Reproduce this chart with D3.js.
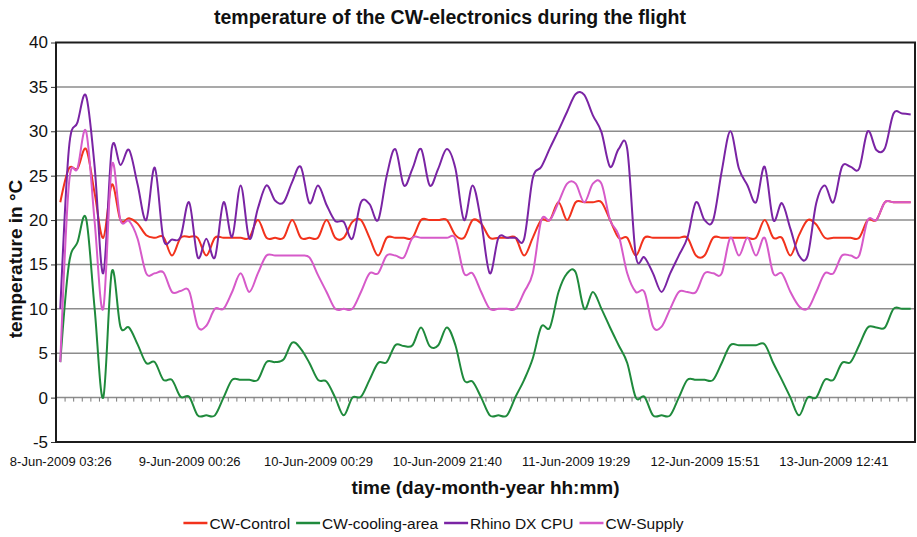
<!DOCTYPE html>
<html>
<head>
<meta charset="utf-8">
<script src="https://cdnjs.cloudflare.com/ajax/libs/d3/7.8.5/d3.min.js"></script>
<style>
  body { margin: 0; background: #fff; }
  text { font-family: 'Liberation Sans', Arial, sans-serif; fill: #111; }
</style>
</head>
<body>
<div class="visContainer"></div>
<script>
// Category axis labels (one label every 15 readings).
const tickLabels = ['8-Jun-2009 03:26', '9-Jun-2009 00:26', '10-Jun-2009 00:29', '10-Jun-2009 21:40',
                    '11-Jun-2009 19:29', '12-Jun-2009 15:51', '13-Jun-2009 12:41'];
const labelStep = 15;
const yTicks = [-5, 0, 5, 10, 15, 20, 25, 30, 35, 40];

const seriesNames = ['CW-Control', 'CW-cooling-area', 'Rhino DX CPU', 'CW-Supply'];

// Temperatures in °C, one per reading.
const cwControl = [22, 25.8, 25.8, 28, 23, 18, 24, 20, 20.2, 19.6, 18.3, 18, 18.1, 16, 18, 18.1, 18, 16, 18, 18, 18, 18, 18, 20, 18, 18, 18,
                   20, 18, 18, 18, 20, 18, 18, 19.8, 20, 18, 16, 18, 18, 18, 18, 20, 20, 20, 20, 18.3, 18, 20, 19.6, 18, 18, 18,
                   18, 16, 18, 20, 20, 22, 20, 22, 22, 22, 22, 20, 18, 18, 16, 18, 18, 18, 18, 18, 18, 16, 16, 18, 18, 18,
                   18, 18, 18, 20, 18, 18, 16, 18.3, 20, 19.5, 18, 18, 18, 18, 18, 20, 20, 22, 22, 22, 22];

const cwCoolingArea = [4, 15, 17.5, 20.2, 10, 0, 14.2, 8, 7.9, 6, 3.9, 4, 2, 2, 0.1, 0.1, -2, -2, -2, 0, 2, 2, 2, 2, 4, 4, 4.3,
                       6.2, 5.5, 3.9, 2, 1.8, 0, -2, 0, 0.1, 2, 3.9, 4, 5.9, 5.8, 5.9, 7.9, 5.8, 5.9, 7.9, 5.9, 2, 1.8, 0, -2, -2, -2,
                       0.1, 2, 4.4, 8, 7.9, 11.9, 14, 14.1, 10, 11.9, 10, 7.9, 5.9, 3.9, 0, 0.1, -2, -2, -2, 0, 2, 2, 2, 2, 3.9, 5.9,
                       5.9, 5.9, 5.9, 6, 3.9, 2, 0, -2, 0, 0, 2, 2, 3.9, 4, 5.9, 7.9, 7.9, 7.9, 10, 10, 10];

const rhinoCpu = [10, 28, 31, 34, 26, 14, 28.1, 26.2, 27.9, 24, 20, 25.9, 17.9, 17.8, 18.1, 22, 15.8, 17.9, 15.8, 22, 18.1, 23.9, 17.9, 21.3, 23.9, 22.2, 22,
                  24.3, 26, 21.9, 23.9, 21.7, 19.9, 19.8, 17.9, 22, 21.8, 20, 25, 28, 23.9, 25.8, 28, 23.9, 25.8, 28, 25.8, 20, 23.9, 19.8, 14, 18, 18,
                  18, 17.9, 24.7, 26, 28.1, 30.1, 32.2, 34.2, 34.1, 31.8, 29.9, 26, 28, 28, 16, 15.8, 14, 11.9, 14, 16, 18, 22, 20, 20, 25.5, 30,
                  25.8, 23.9, 22, 26, 20, 21.9, 19, 16, 16, 21.9, 23.9, 22, 26, 26, 25.8, 30, 27.9, 28.1, 32, 32, 31.9];

const cwSupply = [4, 24, 25.8, 30, 19.8, 10, 26.2, 20, 19.9, 17.9, 14, 14, 14.1, 11.9, 12, 12, 8, 8.1, 10, 10, 11.9, 14, 11.9, 14, 16, 16, 16,
                  16, 16, 15.8, 13.8, 11.9, 10, 10, 10, 11.9, 14, 14, 16, 16, 15.8, 18, 18, 18, 18, 18, 17.9, 14, 14, 11.9, 10, 10, 10,
                  10, 11.9, 14, 20, 20, 22, 24.1, 24.1, 22, 24.1, 24.1, 20, 18.3, 14, 11.9, 11.9, 8, 8, 10, 11.9, 11.9, 11.9, 14, 14, 14, 18,
                  16, 18, 16, 18, 14, 14, 11.9, 10.3, 10, 11.9, 14, 14, 16, 16, 16, 20, 20, 22, 22, 22, 22];

const seriesValues = [cwControl, cwCoolingArea, rhinoCpu, cwSupply];
const colors = ['#f2321c', '#1f8a3c', '#7a24a4', '#d65ac9'];

// SVG constants.
const width = 917;
const height = 537;
const plot = {left: 56, right: 915, top: 42.5, bottom: 442};

const svg = d3.select('.visContainer')
              .append('svg')
              .attr('width', width)
              .attr('height', height);

// Scales.
const x = d3.scaleLinear()
            .domain([-0.5, cwControl.length - 0.5])
            .range([plot.left, plot.right]);

const y = d3.scaleLinear()
            .domain([-5, 40])
            .range([plot.bottom, plot.top]);

// Gridlines.
svg.append('g')
   .attr('class', 'grid')
   .selectAll('line')
   .data(yTicks.filter((d) => d > -5 && d < 40))
   .enter()
   .append('line')
   .attr('x1', plot.left)
   .attr('x2', plot.right)
   .attr('y1', (d) => y(d))
   .attr('y2', (d) => y(d))
   .attr('stroke', '#8c8c8c')
   .attr('stroke-width', 1.5);

// Minor ticks on the category axis, which crosses at 0.
const minorAxis = d3.axisBottom(x)
                    .tickValues(d3.range(0.5, cwControl.length - 1, 1))
                    .tickSize(4)
                    .tickFormat('');

svg.append('g')
   .attr('transform', 'translate(0,' + y(0) + ')')
   .call(minorAxis)
   .call((g) => g.select('.domain').remove())
   .call((g) => g.selectAll('line').attr('stroke', '#7a7a7a'));

// Category labels along the bottom.
const xAxis = d3.axisBottom(x)
                .tickValues(tickLabels.map((d, i) => i * labelStep))
                .tickSize(0)
                .tickPadding(15)
                .tickFormat((d) => tickLabels[d / labelStep]);

svg.append('g')
   .attr('transform', 'translate(0,' + plot.bottom + ')')
   .call(xAxis)
   .call((g) => g.select('.domain').remove())
   .call((g) => g.selectAll('text').style('font-size', '13px').style('fill', '#111'));

// Y axis.
const yAxis = d3.axisLeft(y)
                .tickValues(yTicks)
                .tickSize(5)
                .tickPadding(3)
                .tickFormat((d) => String(d));

svg.append('g')
   .attr('transform', 'translate(' + plot.left + ',0)')
   .call(yAxis)
   .call((g) => g.select('.domain').remove())
   .call((g) => g.selectAll('line').attr('stroke', '#333'))
   .call((g) => g.selectAll('text').style('font-size', '17px').style('fill', '#111'));

// Lines.
const line = d3.line()
               .x((d, i) => x(i))
               .y((d) => y(d))
               .curve(d3.curveCardinal.tension(0));

svg.append('g')
   .attr('class', 'series')
   .selectAll('path')
   .data(seriesValues)
   .enter()
   .append('path')
   .attr('d', line)
   .attr('fill', 'none')
   .attr('stroke', (d, i) => colors[i])
   .attr('stroke-width', 2)
   .attr('stroke-linejoin', 'round');

// Plot border.
svg.append('rect')
   .attr('x', plot.left)
   .attr('y', plot.top)
   .attr('width', plot.right - plot.left)
   .attr('height', plot.bottom - plot.top)
   .attr('fill', 'none')
   .attr('stroke', '#1c1c1c')
   .attr('stroke-width', 2);

// Titles.
svg.append('text')
   .attr('x', 450)
   .attr('y', 24)
   .attr('text-anchor', 'middle')
   .style('font-size', '19.5px')
   .style('font-weight', 'bold')
   .text('temperature of the CW-electronics during the flight');

svg.append('text')
   .attr('x', (plot.left + plot.right) / 2)
   .attr('y', 494)
   .attr('text-anchor', 'middle')
   .style('font-size', '19px')
   .style('font-weight', 'bold')
   .text('time (day-month-year hh:mm)');

svg.append('text')
   .attr('transform', 'translate(22,259) rotate(-90)')
   .attr('text-anchor', 'middle')
   .style('font-size', '19px')
   .style('font-weight', 'bold')
   .text('temperature in °C');

// Legend.
const legend = svg.append('g').attr('id', 'legend');
let cursor = 0;
seriesNames.forEach((name, i) => {
    const item = legend.append('g').attr('transform', 'translate(' + cursor + ',0)');
    item.append('line')
        .attr('x1', 0)
        .attr('x2', 24)
        .attr('y1', 0)
        .attr('y2', 0)
        .attr('stroke', colors[i])
        .attr('stroke-width', 2.5);
    const label = item.append('text')
                      .attr('x', 26)
                      .attr('y', 5.5)
                      .style('font-size', '15.5px')
                      .text(name);
    cursor += 26 + label.node().getComputedTextLength() + 6;
});
legend.attr('transform', 'translate(' + (433.5 - (cursor - 6) / 2) + ',523)');
</script>
</body>
</html>
